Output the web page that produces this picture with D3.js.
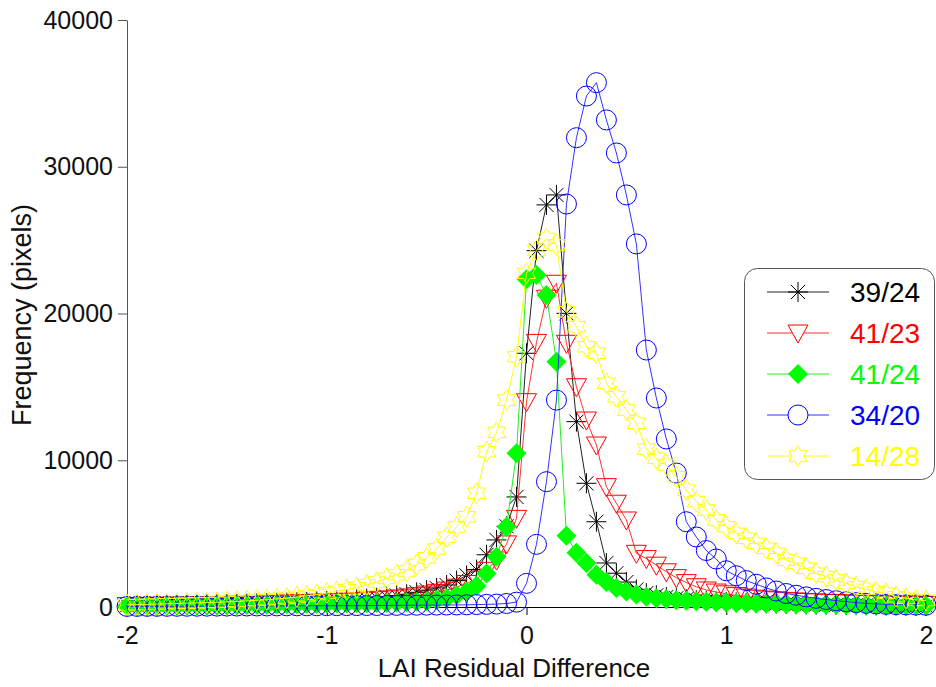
<!DOCTYPE html>
<html>
<head>
<meta charset="utf-8">
<script src="https://cdn.jsdelivr.net/npm/d3@7"></script>
<style>
body { margin: 0; background: #fff; }
svg text { font-family: "Liberation Sans", Arial, sans-serif; }
</style>
</head>
<body>
<div id="chart"></div>
<script>
// bin centres (LAI residual difference)
var bins = [-2.00,-1.95,-1.90,-1.85,-1.80,-1.75,-1.70,-1.65,-1.60,-1.55,
    -1.50,-1.45,-1.40,-1.35,-1.30,-1.25,-1.20,-1.15,-1.10,-1.05,
    -1.00,-0.95,-0.90,-0.85,-0.80,-0.75,-0.70,-0.65,-0.60,-0.55,
    -0.50,-0.45,-0.40,-0.35,-0.30,-0.25,-0.20,-0.15,-0.10,-0.05,
    0.00,0.05,0.10,0.15,0.20,0.25,0.30,0.35,0.40,0.45,
    0.50,0.55,0.60,0.65,0.70,0.75,0.80,0.85,0.90,0.95,
    1.00,1.05,1.10,1.15,1.20,1.25,1.30,1.35,1.40,1.45,
    1.50,1.55,1.60,1.65,1.70,1.75,1.80,1.85,1.90,1.95,2.00];

// frequencies (pixels) per bin
var f3924 = [110,115,120,125,130,140,150,160,170,180,195,210,225,240,260,280,300,325,350,380,
    410,440,480,520,570,630,700,780,870,1000,1150,1300,1500,1800,2150,2550,3560,4570,5500,7500,
    17290,24280,27400,28080,20010,12630,8430,5810,3000,2300,1700,1200,950,800,680,600,530,470,420,380,
    350,320,290,265,245,225,205,190,175,160,150,140,130,120,112,105,98,92,86,80,75];
var f4123 = [100,105,110,115,120,128,136,145,155,165,175,188,200,215,230,250,270,290,310,330,
    350,375,400,430,460,500,550,610,680,770,880,1000,1150,1350,1600,1900,2500,3200,4300,6040,
    13990,18030,21040,22060,17970,15010,12740,11040,8200,7070,5930,3660,3300,2850,2400,2000,1660,1380,1160,1020,
    900,780,680,600,540,490,450,410,380,350,320,300,280,260,245,230,215,200,190,180,170];
var f4124 = [60,65,70,75,80,85,90,95,100,110,120,130,140,150,160,170,180,190,200,210,
    220,230,240,250,260,270,280,300,330,360,400,480,600,800,1040,1430,2290,3430,5470,10470,
    22330,22620,21260,16720,4850,3700,3000,2200,1700,1300,1050,850,700,600,520,460,420,390,360,330,
    300,280,260,245,230,215,200,190,180,170,160,150,140,130,122,115,108,100,95,90,85];
var f3420 = [40,42,44,46,48,50,52,55,58,60,62,65,68,70,72,75,78,80,82,85,
    88,90,92,95,98,100,105,110,115,120,125,130,135,140,150,165,180,200,240,330,
    1610,4270,8540,14100,27460,31980,34820,35730,33190,30940,28080,24740,17510,14240,11450,9130,5810,4770,3850,3270,
    2470,2130,1800,1550,1300,1090,920,800,690,590,510,430,360,300,250,210,180,160,145,130,120];
var f1428 = [150,165,180,200,220,240,260,280,300,325,350,385,420,460,500,550,600,680,760,850,
    950,1050,1180,1320,1500,1700,1950,2200,2450,2900,3350,3950,4750,5450,6150,7750,10580,11900,14100,17060,
    22740,24300,25120,24670,20120,19100,17740,17290,15240,14330,13420,12520,10760,10130,9670,8880,7970,7180,6610,5930,
    5470,5020,4680,4340,4000,3660,3200,2980,2640,2300,2070,1840,1610,1380,1200,1040,930,700,590,480,450];

var seriesNames = ["39/24", "41/23", "41/24", "34/20", "14/28"];
var seriesValues = [f3924, f4123, f4124, f3420, f1428];
var seriesColors = ["#000000", "#ff0000", "#00ff00", "#0000ff", "#ffff00"];
var lineColors = ["#222222", "#ff3333", "#22ee22", "#3333ff", "#ffff00"];

var xMajor = [-2, -1, 0, 1, 2];
var xLabels = ["-2", "-1", "0", "1", "2"];
var xMinor = [-1.75,-1.5,-1.25,-0.75,-0.5,-0.25,0.25,0.5,0.75,1.25,1.5,1.75];
var yMajor = [0, 10000, 20000, 30000, 40000];
var yLabels = ["0", "10000", "20000", "30000", "40000"];
var yMinor = [5000, 15000, 25000, 35000];

// marker shapes, size = (box width)^2
var asterisk = { draw: function(ctx, size) {
    var r = Math.sqrt(size) / 2, d = r * 0.7071;
    ctx.moveTo(-r, 0); ctx.lineTo(r, 0);
    ctx.moveTo(0, -r); ctx.lineTo(0, r);
    ctx.moveTo(-d, -d); ctx.lineTo(d, d);
    ctx.moveTo(-d, d); ctx.lineTo(d, -d);
}};
var triangleDown = { draw: function(ctx, size) {
    var r = Math.sqrt(size) / 2;
    ctx.moveTo(-r, -0.8 * r); ctx.lineTo(r, -0.8 * r); ctx.lineTo(0, r); ctx.closePath();
}};
var diamond = { draw: function(ctx, size) {
    var r = Math.sqrt(size) / 2;
    ctx.moveTo(0, -r); ctx.lineTo(r, 0); ctx.lineTo(0, r); ctx.lineTo(-r, 0); ctx.closePath();
}};
var ring = { draw: function(ctx, size) {
    var r = Math.sqrt(size) / 2;
    ctx.moveTo(r, 0); ctx.arc(0, 0, r, 0, 2 * Math.PI);
}};
var star6 = { draw: function(ctx, size) {
    var R = Math.sqrt(size) / 2 * 1.05, ri = R / Math.sqrt(3);
    for (var k = 0; k < 12; k++) {
        var a = -Math.PI / 2 + k * Math.PI / 6;
        var rr = k % 2 == 0 ? R : ri;
        if (k == 0) ctx.moveTo(rr * Math.cos(a), rr * Math.sin(a));
        else ctx.lineTo(rr * Math.cos(a), rr * Math.sin(a));
    }
    ctx.closePath();
}};
var shapes = [asterisk, triangleDown, diamond, ring, star6];
var filled = [false, false, true, false, false];

var width = 936, height = 687;

var svg = d3.select("#chart").append("svg")
    .attr("width", width)
    .attr("height", height);

var x = d3.scaleLinear().domain([-2, 2]).range([127, 926]);
var y = d3.scaleLinear().domain([0, 40000]).range([607, 20]);

// axes
var gx = svg.append("g").attr("transform", "translate(0,607)");
gx.call(d3.axisBottom(x).tickValues(xMinor).tickSize(5).tickSizeOuter(0).tickFormat(""));
gx.call(d3.axisBottom(x).tickValues(xMajor).tickSize(8).tickSizeOuter(0)
    .tickFormat(function(d, i) { return xLabels[i]; }));
gx.selectAll("text").attr("font-size", "25px").attr("fill", "#111").attr("dy", "1.05em");
gx.selectAll("path,line").attr("stroke", "#000");

var gy = svg.append("g").attr("transform", "translate(127,0)");
gy.call(d3.axisLeft(y).tickValues(yMinor).tickSize(5).tickSizeOuter(0).tickFormat(""));
gy.call(d3.axisLeft(y).tickValues(yMajor).tickSize(9).tickSizeOuter(0)
    .tickFormat(function(d, i) { return yLabels[i]; }));
gy.selectAll("text").attr("font-size", "25px").attr("fill", "#111").attr("x", -14);
gy.selectAll("path,line").attr("stroke", "#555");

svg.append("text")
    .attr("x", 514)
    .attr("y", 677)
    .attr("text-anchor", "middle")
    .attr("font-size", "26px")
    .attr("fill", "#111")
    .text("LAI Residual Difference");

svg.append("text")
    .attr("transform", "translate(31,315) rotate(-90)")
    .attr("text-anchor", "middle")
    .attr("font-size", "27px")
    .attr("fill", "#111")
    .text("Frequency (pixels)");

// series
var line = d3.line()
    .x(function(d) { return x(d[0]); })
    .y(function(d) { return y(d[1]); });

seriesValues.forEach(function(vals, i) {
    var pts = bins.map(function(b, j) { return [b, vals[j]]; });
    var g = svg.append("g").attr("class", "series");
    g.append("path")
        .datum(pts)
        .attr("d", line)
        .attr("fill", "none")
        .attr("stroke", lineColors[i])
        .attr("stroke-width", 1);
    g.selectAll(".mk")
        .data(pts)
        .enter().append("path")
        .attr("class", "mk")
        .attr("transform", function(d) { return "translate(" + x(d[0]) + "," + y(d[1]) + ")"; })
        .attr("d", d3.symbol().type(shapes[i]).size(400))
        .attr("fill", filled[i] ? seriesColors[i] : "none")
        .attr("stroke", filled[i] ? "none" : seriesColors[i])
        .attr("stroke-width", 1);
});

// legend
var legend = svg.append("g");
legend.append("rect")
    .attr("x", 744.5).attr("y", 268.5)
    .attr("width", 190).attr("height", 211)
    .attr("rx", 13)
    .attr("fill", "#fff")
    .attr("stroke", "#555");

var rows = legend.selectAll(".row")
    .data(seriesNames)
    .enter().append("g")
    .attr("class", "row")
    .attr("transform", function(d, i) { return "translate(0," + (292 + i * 41) + ")"; });

rows.append("line")
    .attr("x1", 767).attr("x2", 829)
    .attr("stroke", function(d, i) { return lineColors[i]; });
rows.append("path")
    .attr("transform", "translate(798,0)")
    .attr("d", function(d, i) { return d3.symbol().type(shapes[i]).size(400)(); })
    .attr("fill", function(d, i) { return filled[i] ? seriesColors[i] : "#fff"; })
    .attr("stroke", function(d, i) { return filled[i] ? "none" : seriesColors[i]; });
rows.append("text")
    .attr("x", 850)
    .attr("dy", "0.36em")
    .attr("font-size", "28px")
    .attr("fill", function(d, i) { return seriesColors[i]; })
    .text(function(d) { return d; });
</script>
</body>
</html>
